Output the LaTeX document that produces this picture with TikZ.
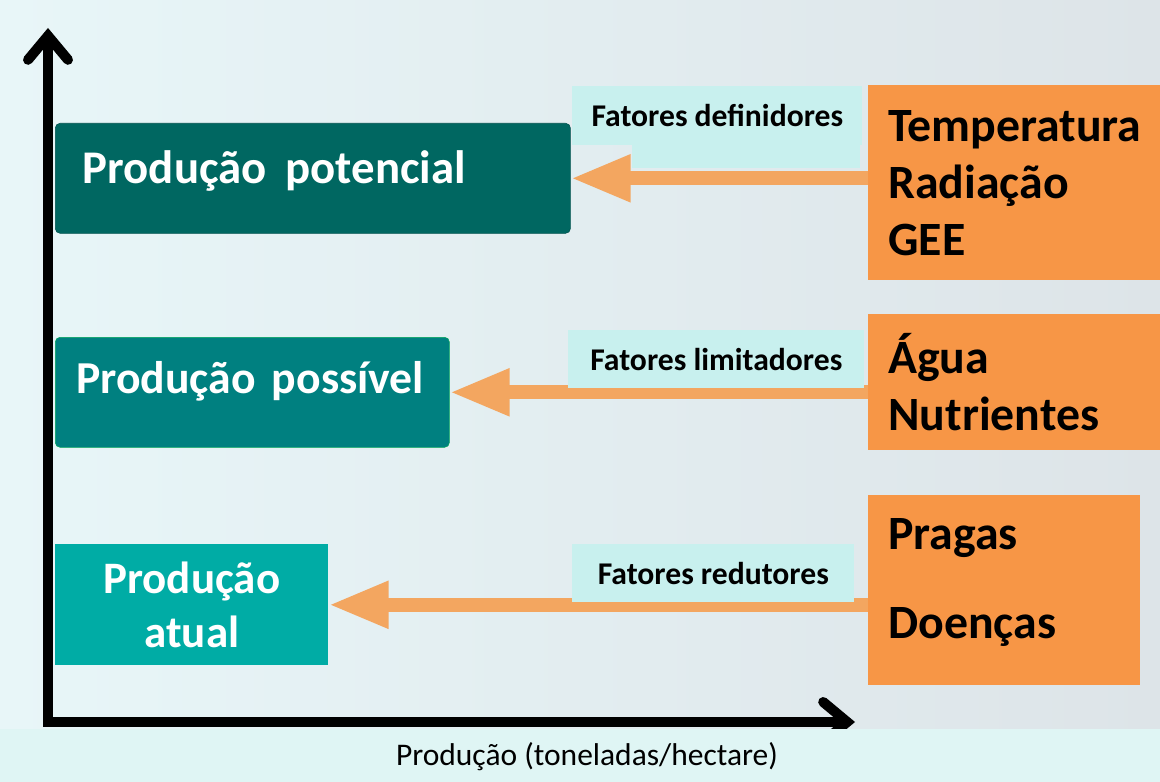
\documentclass[tikz,border=0pt]{standalone}
\usepackage{fontspec}
\setmainfont{Carlito}
\usetikzlibrary{arrows.meta,positioning}
\definecolor{potteal}{RGB}{0,103,97}
\definecolor{posteal}{RGB}{0,128,128}
\definecolor{atuteal}{RGB}{0,172,165}
\definecolor{factorange}{RGB}{247,150,70}
\definecolor{arroworange}{RGB}{243,166,96}
\definecolor{tagcyan}{RGB}{200,240,238}
\definecolor{bgleft}{RGB}{232,246,248}
\definecolor{bgmid}{RGB}{226,240,243}
\definecolor{bgright}{RGB}{221,228,232}
\definecolor{stripcyan}{RGB}{223,245,244}

\begin{document}
\begin{tikzpicture}[x=0.025cm,y=-0.025cm,
  prod/.style={rectangle,anchor=north west,text=white,font=\fontsize{33.3}{40}\selectfont\bfseries,inner ysep=0pt},
  factor/.style={rectangle,anchor=north west,fill=factorange,font=\fontsize{34}{40.5}\selectfont\bfseries,align=left,inner xsep=0.5cm,inner ysep=0pt},
  tag/.style={rectangle,anchor=north west,fill=tagcyan,font=\fontsize{22.5}{27}\selectfont\bfseries,inner sep=0pt},
  arrow/.style={-{Triangle[length=1.5cm,width=1.1cm]},line width=0.35cm,draw=arroworange},
  axis/.style={{Straight Barb[length=0.6cm,width=1.0cm,line cap=round]}-{Straight Barb[length=0.6cm,width=1.0cm,line cap=round]},line width=0.25cm,line cap=round}]
  \useasboundingbox (0,0) rectangle (1160,782);
  \fill[left color=bgleft,middle color=bgmid,right color=bgright] (0,0) rectangle (1160,730);
  % eixos
  \coordinate (origin) at (48,722);
  \coordinate (ytop) at (48,28);
  \coordinate (xend) at (855,722);
  \draw[axis] (ytop) -- (origin) -- (xend);
  \fill[stripcyan] (0,729) rectangle (1160,782);
  \node[font=\fontsize{22.4}{26}\selectfont] (xlabel) at (587,757) {Produção (toneladas/hectare)};
  % niveis de producao
  \node[prod,fill=potteal,draw=potteal!80!black,rounded corners=0.12cm,minimum width=12.875cm,minimum height=2.75cm,text width=12.8cm,inner xsep=0pt,align=left,text height=24pt,text depth=17pt] (potencial) at (55,123) {\hspace*{0.65cm}Produção\hspace{0.4em}potencial};
  \node[prod,fill=posteal,draw=posteal!70!green,rounded corners=0.12cm,minimum width=9.85cm,minimum height=2.75cm,text width=9.8cm,inner xsep=0pt,align=left,font=\fontsize{32.5}{40}\selectfont\bfseries,text height=24pt,text depth=22pt] (possivel) at (55,337) {\hspace*{0.5cm}Produção\hspace{0.35em}possível};
  \node[prod,fill=atuteal,minimum width=6.825cm,minimum height=3.025cm,align=center,font=\fontsize{32}{38.5}\selectfont\bfseries] (atual) at (55,544) {Produção\\atual};
  % fatores
  \node[factor,minimum width=7.3cm,minimum height=4.875cm,text width=6.3cm] (defin) at (868,85) {Temperatura\\Radiação\\GEE};
  \node[factor,minimum width=7.3cm,minimum height=3.4cm,text width=6.3cm] (limit) at (868,314) {Água\\Nutrientes};
  \node[factor,minimum width=6.8cm,minimum height=4.75cm,text width=5.8cm,text height=11pt] (redut) at (868,495) {Pragas\\[23pt]Doenças};
  % setas
  \draw[arrow] (defin.west |- potencial.east) -- (potencial.east);
  \draw[arrow] (limit.west |- possivel.east) -- (possivel.east);
  \draw[arrow] (redut.west |- atual.east) -- (atual.east);
  % rotulos
  \fill[tagcyan] (632,145) rectangle (860,168);
  \node[tag,minimum width=7.25cm,minimum height=1.475cm] (tagdefin) at (572,86) {Fatores definidores};
  \node[tag,minimum width=7.4cm,minimum height=1.45cm] (taglimit) at (568,330) {Fatores limitadores};
  \node[tag,minimum width=7.05cm,minimum height=1.45cm] (tagredut) at (572,544) {Fatores redutores};
\end{tikzpicture}
\end{document}
